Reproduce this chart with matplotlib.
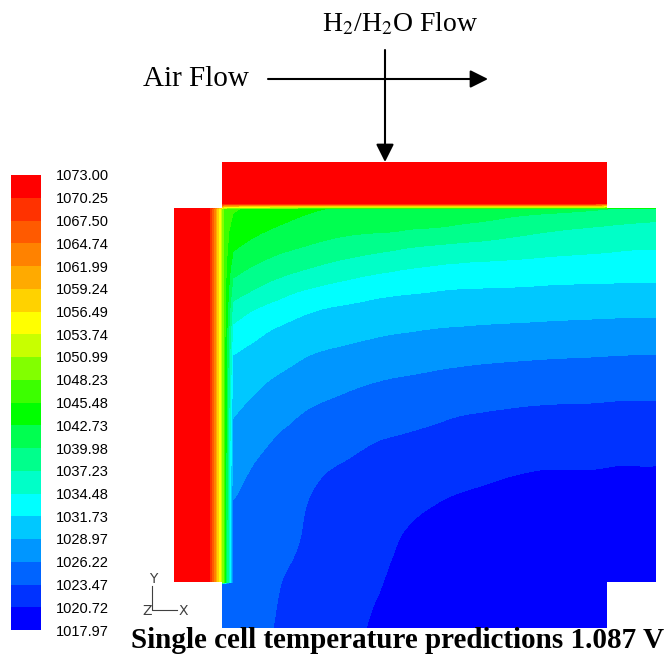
import numpy as np
import matplotlib.pyplot as plt
from matplotlib.colors import ListedColormap, BoundaryNorm
from matplotlib.path import Path
from matplotlib.patches import PathPatch
from matplotlib.tri import Triangulation, UniformTriRefiner

plt.rcParams['mathtext.fontset'] = 'stix'

# legend levels (K) and the colour of each band, bottom to top
levels = [1017.97, 1020.72, 1023.47, 1026.22, 1028.97, 1031.73, 1034.48,
          1037.23, 1039.98, 1042.73, 1045.48, 1048.23, 1050.99, 1053.74,
          1056.49, 1059.24, 1061.99, 1064.74, 1067.50, 1070.25, 1073.00]
band_colors = ['#0000ff', '#0032ff', '#0064ff', '#0096ff', '#00c8ff',
               '#00ffff', '#00ffc8', '#00ff8c', '#00ff50', '#00ff00',
               '#3cff00', '#82ff00', '#c8ff00', '#ffff00', '#ffd200',
               '#ffaa00', '#ff8200', '#ff5a00', '#ff3200', '#ff0000']

# temperature in the cell (picture units, y down)
field_x = [233, 255, 280, 310, 340, 370, 400, 435, 470, 540, 607, 656]
field_y = [209, 230, 250, 270, 290, 310, 330, 355, 380, 410, 440, 470,
           500, 530, 560, 582, 628]
field_t = [
    [1045.80, 1044.70, 1043.70, 1043.00, 1042.50, 1042.30, 1042.00, 1041.80, 1041.50, 1040.80, 1040.00, 1039.10],
    [1044.30, 1043.27, 1042.34, 1041.40, 1040.68, 1040.35, 1040.07, 1039.64, 1039.06, 1037.62, 1036.64, 1036.20],
    [1042.87, 1041.51, 1040.37, 1039.38, 1038.48, 1037.78, 1037.10, 1036.44, 1035.98, 1035.25, 1034.68, 1034.48],
    [1040.83, 1039.41, 1038.15, 1036.96, 1035.92, 1035.13, 1034.48, 1033.95, 1033.63, 1033.20, 1032.88, 1032.76],
    [1038.61, 1037.09, 1035.58, 1034.25, 1033.40, 1032.69, 1032.19, 1031.84, 1031.58, 1031.35, 1031.18, 1031.10],
    [1036.13, 1034.39, 1033.21, 1031.96, 1031.33, 1030.90, 1030.60, 1030.31, 1030.09, 1029.81, 1029.60, 1029.52],
    [1033.81, 1032.49, 1031.39, 1030.57, 1029.98, 1029.52, 1029.18, 1028.84, 1028.62, 1028.32, 1028.10, 1028.03],
    [1031.73, 1030.86, 1029.95, 1028.97, 1028.40, 1027.93, 1027.56, 1027.16, 1026.85, 1026.51, 1026.29, 1026.22],
    [1030.64, 1029.58, 1028.58, 1027.65, 1026.96, 1026.40, 1026.02, 1025.65, 1025.32, 1024.94, 1024.72, 1024.66],
    [1029.32, 1028.18, 1027.10, 1026.12, 1025.50, 1024.98, 1024.55, 1024.09, 1023.64, 1023.22, 1023.05, 1023.00],
    [1028.23, 1026.87, 1026.01, 1025.13, 1024.23, 1023.61, 1023.26, 1022.86, 1022.44, 1021.97, 1021.78, 1021.71],
    [1027.23, 1026.02, 1025.48, 1024.13, 1023.33, 1023.03, 1022.46, 1021.84, 1021.29, 1020.72, 1020.64, 1020.60],
    [1026.22, 1025.62, 1024.96, 1023.39, 1022.98, 1022.54, 1021.65, 1020.82, 1020.50, 1020.24, 1020.14, 1020.11],
    [1025.82, 1025.21, 1024.43, 1023.16, 1022.64, 1022.05, 1020.85, 1020.35, 1020.05, 1019.76, 1019.64, 1019.62],
    [1025.41, 1024.81, 1023.91, 1022.93, 1022.29, 1021.57, 1020.42, 1019.94, 1019.61, 1019.28, 1019.13, 1019.12],
    [1025.12, 1024.52, 1023.52, 1022.76, 1022.03, 1021.21, 1020.15, 1019.63, 1019.28, 1018.93, 1018.77, 1018.76],
    [1024.50, 1023.90, 1023.30, 1022.40, 1021.50, 1020.60, 1019.60, 1019.00, 1018.60, 1018.20, 1018.00, 1018.00],
]

# air channel on the left, temperature across its width
strip_x = [174, 207, 211, 215, 219, 224]
strip_t = [1073.0, 1073.0, 1068.0, 1062.0, 1056.0, 1047.0]

# fuel manifold on top
manifold_y = [162, 203]
manifold_t = 1073.0

# outline of the cell (picture units)
x_left, x_in, x_out, x_right = 174, 222, 607, 656
y_top, y_cell_top, y_cell_bot, y_bot = 162, 208, 582, 628

# full grid for channel + manifold: manifold rows, cell rows, lower extension
xs = strip_x + field_x
ys = manifold_y + field_y[:-1] + [y_cell_bot + 2, field_y[-1]]
rows = [[manifold_t] * len(xs) for _ in manifold_y]
for row in field_t[:-1]:
    rows.append(strip_t + row)
rows.append([field_t[-2][0]] * len(strip_x) + field_t[-2])
rows.append([field_t[-1][0]] * len(strip_x) + field_t[-1])
X, Y = np.meshgrid(xs, ys)
Z = np.array(rows)

cmap = ListedColormap(band_colors)
norm = BoundaryNorm(levels, cmap.N)

fig = plt.figure(figsize=(6.71, 6.58), dpi=100)
ax = fig.add_axes([0, 0, 1, 1])
ax.set_xlim(0, 671)
ax.set_ylim(658, 0)
ax.axis('off')

outline = Path([(x_left, y_cell_top), (x_in, y_cell_top), (x_in, y_top),
                (x_out, y_top), (x_out, y_cell_top), (x_right, y_cell_top),
                (x_right, y_cell_bot), (x_out, y_cell_bot), (x_out, y_bot),
                (x_in, y_bot), (x_in, y_cell_bot), (x_left, y_cell_bot),
                (x_left, y_cell_top)], closed=True)
clip = PathPatch(outline, facecolor='none', edgecolor='none', transform=ax.transData)
ax.add_patch(clip)

cs = ax.contourf(X, Y, Z, levels=levels, cmap=cmap, norm=norm)
cs.set_clip_path(clip)

# the cell itself, on a smoothed (refined) triangulation
FX, FY = np.meshgrid(field_x, field_y)
tri = Triangulation(FX.ravel(), FY.ravel())
tri_fine, t_fine = UniformTriRefiner(tri).refine_field(np.ravel(field_t), subdiv=3)
t_fine = np.clip(t_fine, levels[0], levels[-1])
cs_cell = ax.tricontourf(tri_fine, t_fine, levels=levels, cmap=cmap, norm=norm)
cs_cell.set_clip_path(clip)

# colour legend
cax = fig.add_axes([11 / 671, 1 - 630 / 658, 30 / 671, 455 / 658])
cb = fig.colorbar(cs, cax=cax, ticks=levels)
cb.ax.set_yticklabels([f'{v:.2f}' for v in levels], family='Liberation Sans')
cb.outline.set_visible(False)
cb.ax.tick_params(length=0, pad=11, labelsize=10.5)

# flow directions
arrow = dict(arrowstyle='-|>,head_length=0.4,head_width=0.2', color='black',
             lw=1.5, mutation_scale=27, shrinkA=0, shrinkB=0)
ax.annotate('', xy=(488, 79), xytext=(268, 79), arrowprops=arrow)
ax.annotate('', xy=(385, 162), xytext=(385, 50), arrowprops=arrow)
ax.text(143, 79, 'Air Flow', fontsize=21, family='Liberation Serif',
        ha='left', va='center')
ax.text(400, 24, r'H$_2$/H$_2$O Flow', fontsize=20, family='Liberation Serif',
        ha='center', va='center')

# axis triad
gray = '#404040'
ax.plot([152, 152, 177], [586, 610, 610], color=gray, lw=0.8)
ax.text(153, 579, 'Y', fontsize=10, color=gray, ha='center', va='center')
ax.text(147, 611, 'Z', fontsize=10, color=gray, ha='center', va='center')
ax.text(183, 611, 'X', fontsize=10, color=gray, ha='center', va='center')

ax.text(398, 641, 'Single cell temperature predictions 1.087 V', fontsize=21,
        fontweight='bold', family='Liberation Serif', ha='center', va='center')

fig.savefig('out.png', dpi=100)
